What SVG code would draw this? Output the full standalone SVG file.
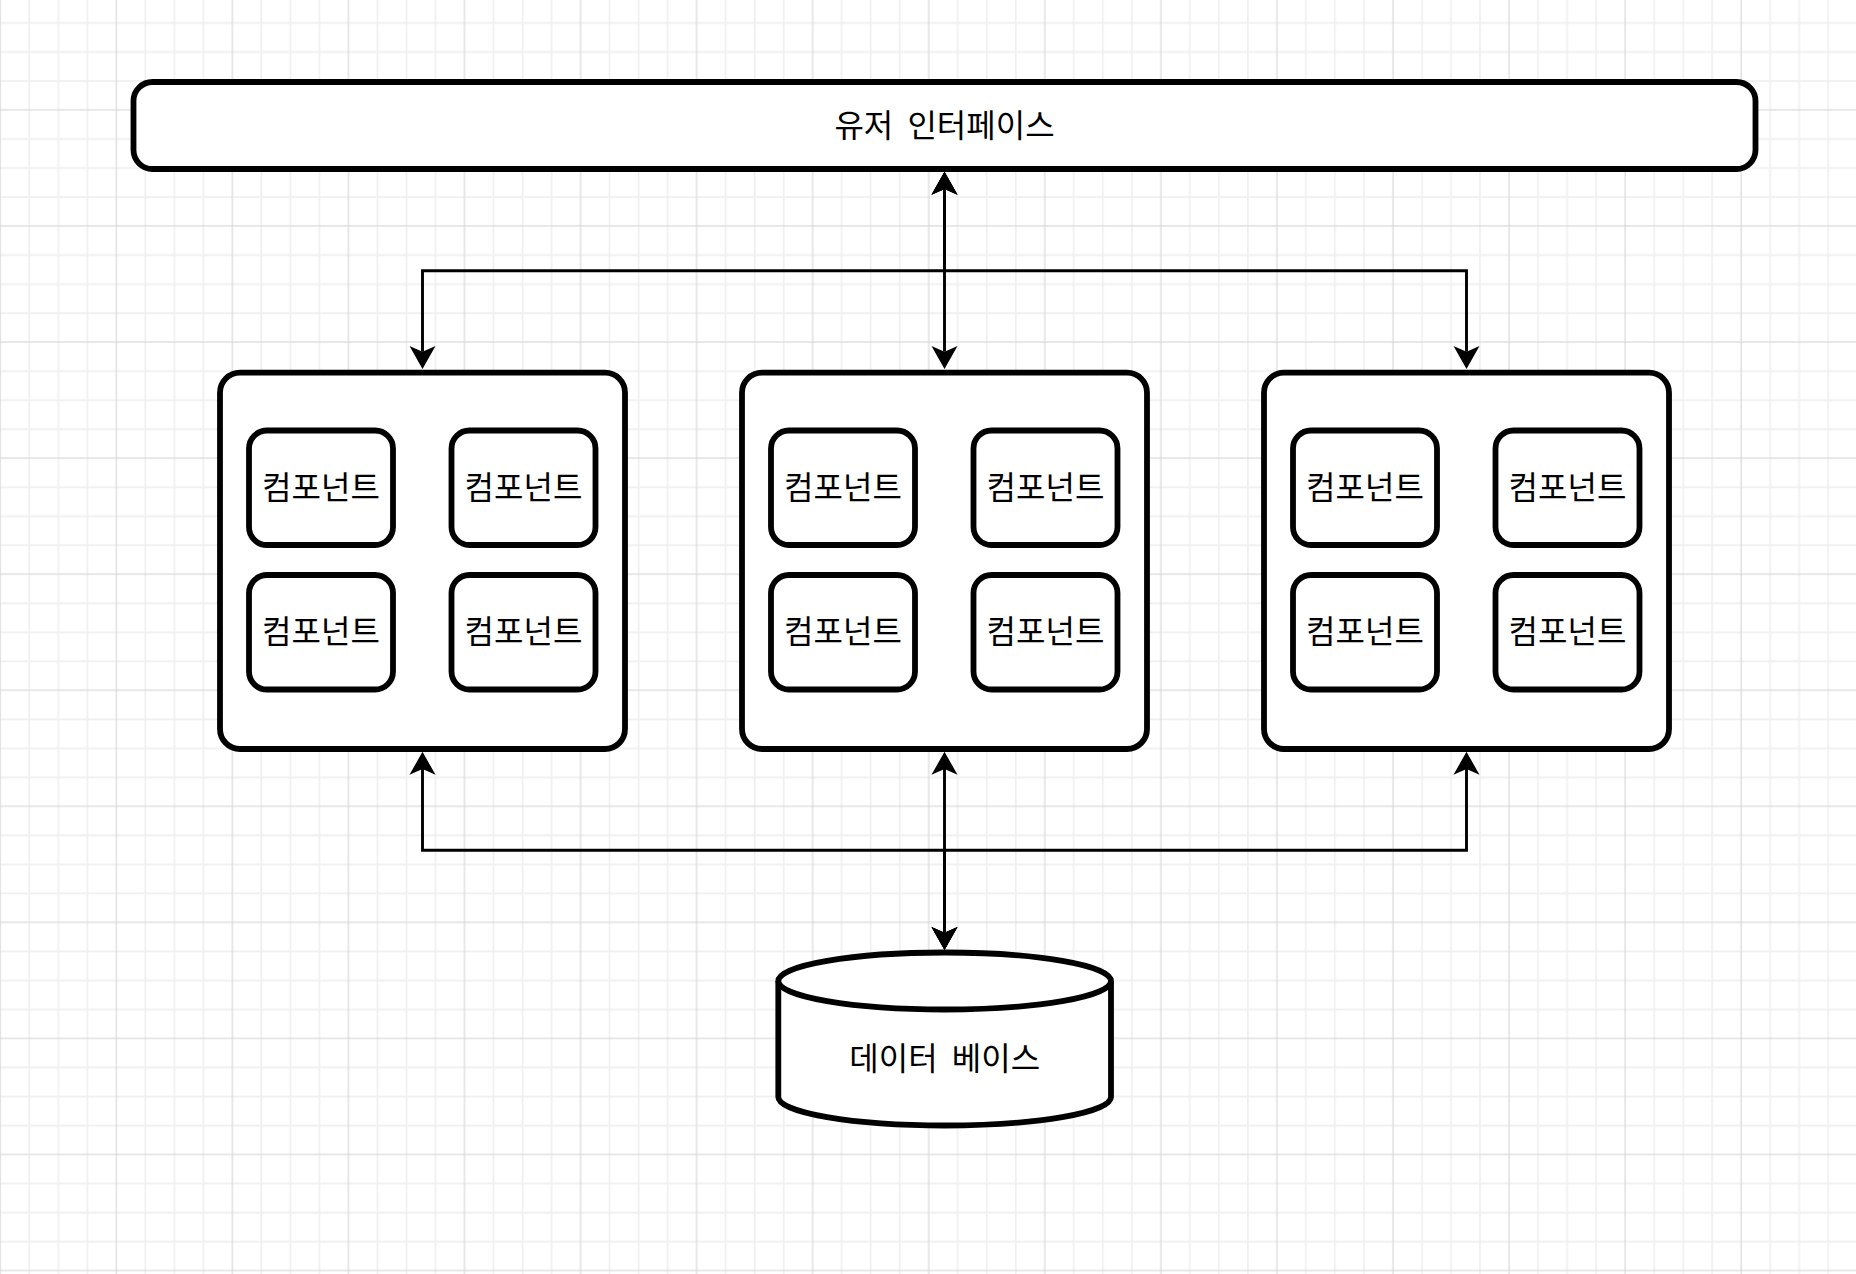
<svg xmlns="http://www.w3.org/2000/svg" width="1856" height="1274" viewBox="0 0 1856 1274">
  <defs>
    <!-- drawing grid: minor every 29px, major every 4 minor -->
    <pattern id="grid" patternUnits="userSpaceOnUse" x="43.78" y="37.48" width="116.06" height="116.06">
      <path d="M14.51,0V116.06M43.52,0V116.06M101.57,0V116.06M0,14.51H116.06M0,43.52H116.06M0,101.57H116.06" stroke="#efefef" stroke-width="1.6" fill="none"/>
      <path d="M72.52,0V116.06M0,72.52H116.06" stroke="#d2d2d2" stroke-width="1" fill="none"/>
    </pattern>
    <!-- classic arrowhead, anchored at its notch -->
    <marker id="arrow" viewBox="-2 -15 28 30" refX="5.75" refY="0" markerWidth="28" markerHeight="30" markerUnits="userSpaceOnUse" orient="auto-start-reverse">
      <path d="M23,0 L0,-13 L5.75,0 L0,13 Z" fill="#000"/>
    </marker>
  </defs>
  <style>
    .box { fill: #fff; stroke: #000; stroke-width: 5.8; }
    .link { fill: none; stroke: #000; stroke-width: 2.9; marker-start: url(#arrow); marker-end: url(#arrow); }
    .label { font-family: "Noto Sans CJK KR", "Noto Sans", sans-serif; font-size: 32px; fill: #000; text-anchor: middle; dominant-baseline: central; word-spacing: 7px; }
  </style>

  <rect width="1856" height="1274" fill="#fff"/>
  <rect width="1856" height="1274" fill="url(#grid)"/>

  <!-- connectors -->
  <g id="connectors">
    <path class="link" d="M944.5,189 V270.7 H422.5 V351.7"/>
    <path class="link" d="M944.5,189 V351.7"/>
    <path class="link" d="M944.5,189 V270.7 H1466.5 V351.7"/>
    <path class="link" d="M422.5,769 V850.3 H944.5 V932.75"/>
    <path class="link" d="M944.5,769 V932.75"/>
    <path class="link" d="M1466.5,769 V850.3 H944.5 V932.75"/>
  </g>

  <!-- user interface bar -->
  <g id="ui">
    <rect class="box" x="133.5" y="82" width="1622" height="87" rx="19"/>
    <text class="label" x="944.5" y="122.5">유저 인터페이스</text>
  </g>

  <!-- module 1 -->
  <g id="module1">
    <rect class="box" x="220" y="372.7" width="405" height="376.3" rx="20"/>
    <g id="m1c1"><rect class="box" x="249" y="430.5" width="144" height="114.5" rx="18"/><text class="label" x="321" y="484.75">컴포넌트</text></g>
    <g id="m1c2"><rect class="box" x="451.5" y="430.5" width="144" height="114.5" rx="18"/><text class="label" x="523.5" y="484.75">컴포넌트</text></g>
    <g id="m1c3"><rect class="box" x="249" y="575" width="144" height="114.5" rx="18"/><text class="label" x="321" y="629.25">컴포넌트</text></g>
    <g id="m1c4"><rect class="box" x="451.5" y="575" width="144" height="114.5" rx="18"/><text class="label" x="523.5" y="629.25">컴포넌트</text></g>
  </g>

  <!-- module 2 -->
  <g id="module2">
    <rect class="box" x="742" y="372.7" width="405" height="376.3" rx="20"/>
    <g id="m2c1"><rect class="box" x="771" y="430.5" width="144" height="114.5" rx="18"/><text class="label" x="843" y="484.75">컴포넌트</text></g>
    <g id="m2c2"><rect class="box" x="973.5" y="430.5" width="144" height="114.5" rx="18"/><text class="label" x="1045.5" y="484.75">컴포넌트</text></g>
    <g id="m2c3"><rect class="box" x="771" y="575" width="144" height="114.5" rx="18"/><text class="label" x="843" y="629.25">컴포넌트</text></g>
    <g id="m2c4"><rect class="box" x="973.5" y="575" width="144" height="114.5" rx="18"/><text class="label" x="1045.5" y="629.25">컴포넌트</text></g>
  </g>

  <!-- module 3 -->
  <g id="module3">
    <rect class="box" x="1264" y="372.7" width="405" height="376.3" rx="20"/>
    <g id="m3c1"><rect class="box" x="1293" y="430.5" width="144" height="114.5" rx="18"/><text class="label" x="1365" y="484.75">컴포넌트</text></g>
    <g id="m3c2"><rect class="box" x="1495.5" y="430.5" width="144" height="114.5" rx="18"/><text class="label" x="1567.5" y="484.75">컴포넌트</text></g>
    <g id="m3c3"><rect class="box" x="1293" y="575" width="144" height="114.5" rx="18"/><text class="label" x="1365" y="629.25">컴포넌트</text></g>
    <g id="m3c4"><rect class="box" x="1495.5" y="575" width="144" height="114.5" rx="18"/><text class="label" x="1567.5" y="629.25">컴포넌트</text></g>
  </g>

  <!-- database cylinder -->
  <g id="database">
    <path class="box" d="M778.3,981 A166.3,28.5 0 0 1 1111,981 V1097 A166.3,28.5 0 0 1 778.3,1097 Z"/>
    <path class="box" fill="none" d="M778.3,981 A166.3,28.5 0 0 0 1111,981"/>
    <text class="label" x="944.7" y="1056">데이터 베이스</text>
  </g>
</svg>
